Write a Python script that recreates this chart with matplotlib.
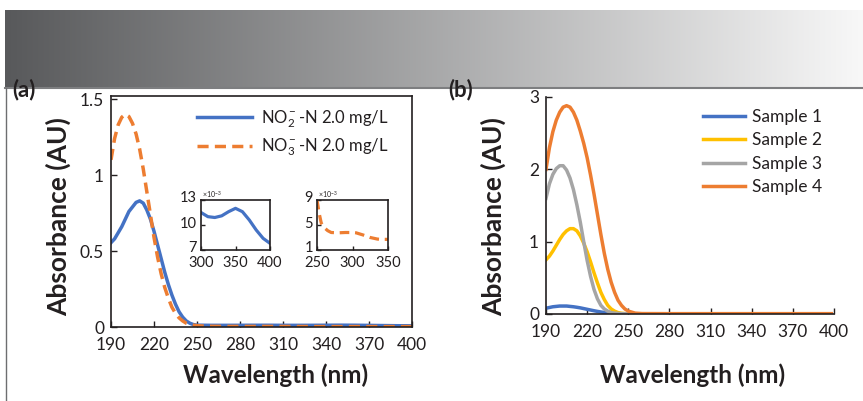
import numpy as np
import matplotlib
matplotlib.use("Agg")
import matplotlib.pyplot as plt
from matplotlib.lines import Line2D
from matplotlib.transforms import ScaledTranslation

plt.rcParams['font.family'] = ['Lato', 'DejaVu Sans']
plt.rcParams['mathtext.fontset'] = 'custom'
plt.rcParams['mathtext.rm'] = 'Lato'
plt.rcParams['mathtext.it'] = 'Lato:italic'
plt.rcParams['mathtext.bf'] = 'Lato:bold'

# ---- panel (a): nitrite / nitrate standards ----
wl_peak_a = [190, 192.5, 195, 197.5, 200, 202.5, 205, 207.5, 210, 212.5, 215, 217.5,
             220, 222.5, 225, 227.5, 230, 232.5, 235, 237.5, 240, 242.5, 245, 247.5]
no2_peak = [0.555, 0.58, 0.62, 0.66, 0.71, 0.76, 0.79, 0.82, 0.83, 0.815, 0.77, 0.71,
            0.63, 0.54, 0.45, 0.36, 0.28, 0.21, 0.15, 0.10, 0.065, 0.04, 0.025, 0.016]
no3_peak = [1.10, 1.24, 1.33, 1.38, 1.40, 1.385, 1.34, 1.27, 1.17, 1.04, 0.89, 0.74,
            0.59, 0.46, 0.35, 0.26, 0.19, 0.13, 0.09, 0.06, 0.04, 0.025, 0.017, 0.012]

# nitrite 250-300 nm, then the zoomed 300-400 nm window (x10^-3)
no2_mid_wl = [250, 260, 270, 280, 290]
no2_mid = [0.012, 0.011, 0.011, 0.0112, 0.0115]
no2_zoom_wl = [300, 310, 320, 330, 340, 350, 360, 370, 380, 390, 400]
no2_zoom = [11.5, 11.0, 10.9, 11.1, 11.6, 12.0, 11.6, 10.6, 9.4, 8.4, 7.8]

# nitrate zoomed 250-350 nm window (x10^-3), then 350-400 nm
no3_zoom_wl = [250, 253, 256, 260, 265, 270, 280, 290, 300, 305, 315, 325, 335, 340, 350]
no3_zoom = [9.0, 6.9, 5.3, 4.6, 4.1, 3.8, 3.75, 3.8, 3.8, 3.75, 3.4, 3.0, 2.75, 2.7, 2.7]
no3_tail_wl = [360, 370, 380, 390, 400]
no3_tail = [0.0027, 0.0026, 0.0026, 0.0025, 0.0025]

# ---- panel (b): water samples ----
wl_b = [190, 192.5, 195, 197.5, 200, 202.5, 205, 207.5, 210, 212.5, 215, 217.5, 220,
        222.5, 225, 227.5, 230, 232.5, 235, 237.5, 240, 242.5, 245, 247.5, 250,
        255, 260, 280, 320, 360, 398]
sample1 = [0.08, 0.09, 0.10, 0.105, 0.11, 0.11, 0.11, 0.105, 0.10, 0.093, 0.085, 0.075,
           0.065, 0.055, 0.045, 0.036, 0.028, 0.021, 0.015, 0.010, 0.007, 0.004, 0.003,
           0.002, 0.001, 0.001, 0.001, 0.001, 0.001, 0.001, 0.001]
sample2 = [0.75, 0.80, 0.87, 0.95, 1.03, 1.10, 1.15, 1.18, 1.18, 1.15, 1.08, 0.98, 0.86,
           0.72, 0.57, 0.43, 0.30, 0.20, 0.12, 0.07, 0.04, 0.02, 0.01, 0.006, 0.004,
           0.003, 0.003, 0.003, 0.003, 0.003, 0.003]
sample3 = [1.60, 1.80, 1.93, 2.01, 2.05, 2.05, 1.99, 1.88, 1.72, 1.51, 1.27, 1.00, 0.74,
           0.52, 0.34, 0.21, 0.12, 0.07, 0.04, 0.02, 0.012, 0.008, 0.005, 0.004, 0.003,
           0.003, 0.003, 0.003, 0.003, 0.003, 0.003]
sample4 = [2.00, 2.30, 2.52, 2.68, 2.79, 2.86, 2.88, 2.86, 2.79, 2.68, 2.53, 2.36, 2.16,
           1.92, 1.66, 1.38, 1.10, 0.84, 0.62, 0.44, 0.30, 0.19, 0.12, 0.07, 0.04,
           0.012, 0.006, 0.005, 0.005, 0.005, 0.005]
sample_names = ['Sample 1', 'Sample 2', 'Sample 3', 'Sample 4']

x_ticks = [190, 220, 250, 280, 310, 340, 370, 400]

BLUE = '#4472C4'
ORANGE = '#ED7D31'
GRAY = '#A5A5A5'
YELLOW = '#FFC000'
TXT = '#231f20'

W, H = 863, 401
fig = plt.figure(figsize=(W / 100, H / 100), dpi=100)


def px_axes(x0, y0, x1, y1, **kw):
    """axes from pixel box (left, top, right, bottom)"""
    return fig.add_axes([x0 / W, 1 - y1 / H, (x1 - x0) / W, (y1 - y0) / H], **kw)


def fx(x):
    return x / W


def fy(y):
    return 1 - y / H


# header band with grey gradient
band = px_axes(5, 10, W, 88)
grad = np.linspace(0, 1, 512)[None, :]
c0 = np.array([88, 89, 91]) / 255
c1 = np.array([248, 248, 248]) / 255
img = c0[None, None, :] + (c1 - c0)[None, None, :] * grad[..., None]
band.imshow(img, aspect='auto', extent=[0, 1, 0, 1])
band.axis('off')
fig.add_artist(Line2D([fx(5), 1], [fy(88), fy(88)], color='#7d7e80', lw=1.5))
fig.add_artist(Line2D([fx(6), fx(6)], [0, fy(88)], color='#6d6e70', lw=1.0))


def style(ax, size=12.5, xpad=7, ypad=5, length=4):
    ax.tick_params(direction='in', length=length, width=1, colors=TXT, labelsize=size)
    ax.tick_params(axis='x', pad=xpad)
    ax.tick_params(axis='y', pad=ypad)
    for s in ax.spines.values():
        s.set_linewidth(1.2)
        s.set_color(TXT)


# panel (a)
ax1 = px_axes(111, 96, 412, 327)
wl_a_no2 = wl_peak_a + no2_mid_wl + no2_zoom_wl
ab_no2 = no2_peak + no2_mid + [v * 1e-3 for v in no2_zoom]
wl_a_no3 = wl_peak_a + no3_zoom_wl + no3_tail_wl
ab_no3 = no3_peak + [v * 1e-3 for v in no3_zoom] + no3_tail
ax1.plot(wl_a_no2, ab_no2, color=BLUE, lw=2.5, label=r'NO$_2^-$-N 2.0 mg/L')
ax1.plot(wl_a_no3, ab_no3, color=ORANGE, lw=2.5, ls=(0, (3.2, 1.8)),
         label=r'NO$_3^-$-N 2.0 mg/L')
ax1.set_xlim(190, 400)
ax1.set_ylim(0, 1.52)
ax1.set_xticks(x_ticks)
ax1.set_yticks([0, 0.5, 1, 1.5])
ax1.set_yticklabels(['0', '0.5', '1', '1.5'])
style(ax1)
ax1.legend(loc='upper left', frameon=False, fontsize=12, handlelength=3.3,
           handletextpad=0.55, labelspacing=0.45, borderpad=0, borderaxespad=0,
           bbox_to_anchor=(fx(197), fy(108)), bbox_transform=fig.transFigure,
           labelcolor=TXT)

# zoomed windows
ins1 = px_axes(201, 200, 270, 250)
ins1.plot(no2_zoom_wl, no2_zoom, color=BLUE, lw=2.3)
ins1.set_xlim(300, 400)
ins1.set_ylim(7, 13)
ins1.set_xticks([300, 350, 400])
ins1.set_yticks([7, 10, 13])
style(ins1, 10.5, xpad=4.5, ypad=3, length=3)

ins2 = px_axes(317, 200, 388, 250)
ins2.plot(no3_zoom_wl, no3_zoom, color=ORANGE, lw=2.3, ls=(0, (3.0, 1.8)))
ins2.set_xlim(250, 350)
ins2.set_ylim(1, 9)
ins2.set_xticks([250, 300, 350])
ins2.set_yticks([1, 5, 9])
style(ins2, 10.5, xpad=4.5, ypad=3, length=3)

lift = ScaledTranslation(0, 3 / 100, fig.dpi_scale_trans)
for a in (ins1, ins2):
    a.text(0.02, 1.0, r'$\times10^{-3}$', transform=a.transAxes, fontsize=5,
           color=TXT, ha='left', va='bottom')
    for lab in a.get_yticklabels():
        lab.set_transform(lab.get_transform() + lift)

# panel (b)
ax2 = px_axes(546, 97, 834, 314)
for vals, col, name in zip([sample1, sample2, sample3, sample4],
                           [BLUE, YELLOW, GRAY, ORANGE], sample_names):
    ax2.plot(wl_b, vals, color=col, lw=2.5, label=name)
ax2.set_xlim(190, 400)
ax2.set_ylim(0, 3)
ax2.set_xticks(x_ticks)
ax2.set_yticks([0, 1, 2, 3])
style(ax2)
ax2.spines['top'].set_visible(False)
ax2.spines['right'].set_visible(False)
ax2.legend(loc='upper left', frameon=False, fontsize=12.5, handlelength=2.4,
           handletextpad=0.45, labelspacing=0.42, borderpad=0, borderaxespad=0,
           bbox_to_anchor=(fx(703), fy(109)), bbox_transform=fig.transFigure,
           labelcolor=TXT)

# labels
fig.text(fx(12), fy(90), '(a)', fontsize=16, fontweight='bold', color=TXT,
         ha='left', va='center')
fig.text(fx(448), fy(90), '(b)', fontsize=16, fontweight='bold', color=TXT,
         ha='left', va='center')
for xc in (58, 493):
    fig.text(fx(xc), fy(217), 'Absorbance (AU)', rotation=90, fontsize=19,
             fontweight='bold', color=TXT, ha='center', va='center')
for xc in (276, 693):
    fig.text(fx(xc), fy(375), 'Wavelength (nm)', fontsize=17.5,
             fontweight='bold', color=TXT, ha='center', va='center')

fig.savefig('out.png', dpi=100)
